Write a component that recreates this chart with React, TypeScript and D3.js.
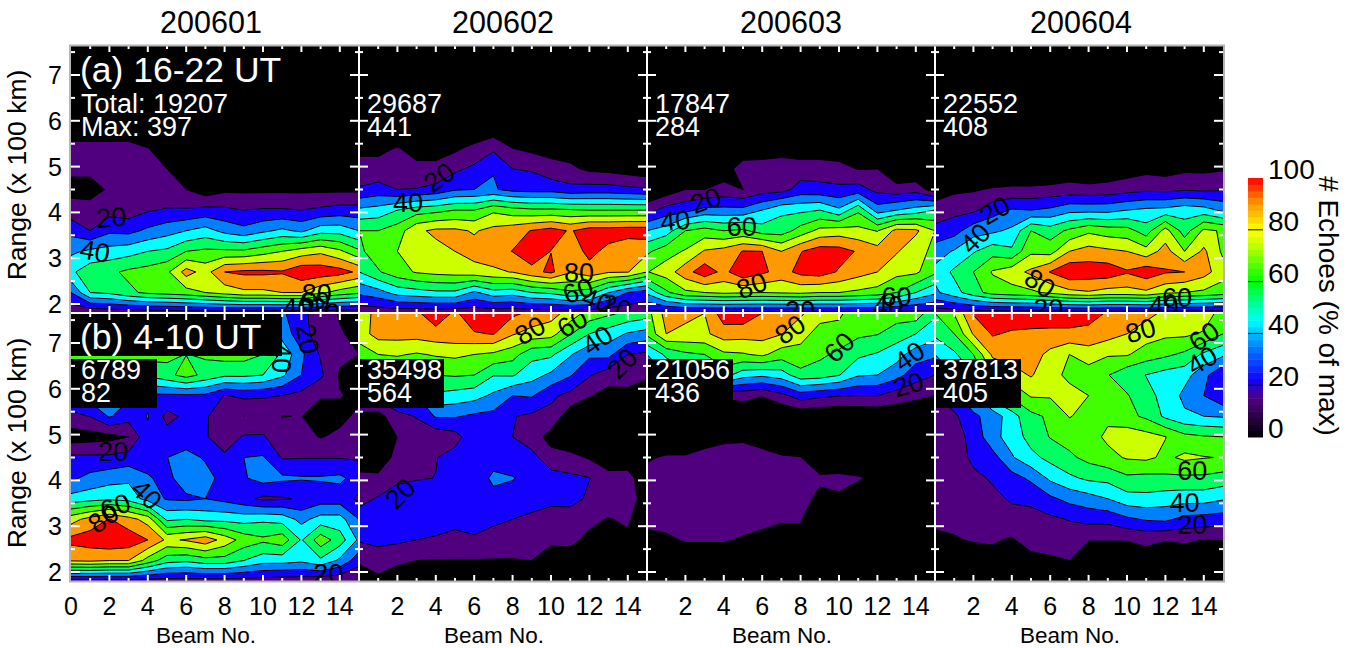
import React from "react";
import * as d3 from "d3";

const months = ["200601", "200602", "200603", "200604"];
const topTotals = ["Total: 19207", "29687", "17847", "22552"];
const topMaxes = ["Max: 397", "441", "284", "408"];
const bottomTotals = ["6789", "35498", "21056", "37813"];
const bottomMaxes = ["82", "564", "436", "405"];
const levels = [10, 20, 30, 40, 50, 60, 70, 80, 90];
const bandColors = ["#50007f", "#1400ff", "#0080ff", "#00ffff", "#00ff60", "#40ff00", "#ccff00", "#ff9900", "#ff0000"];
const beamTicks = d3.range(0, 16);
const beamLabels = [0, 2, 4, 6, 8, 10, 12, 14];
const rangeTicks = [2, 3, 4, 5, 6, 7];
const barTicks = [0, 20, 40, 60, 80, 100];
const zero = [0, 0, 0, 0, 0, 0, 0, 0, 0, 0, 0, 0, 0, 0, 0, 0];

// rows run from range 180 km upward, 45 km per gate; columns are beams 0-15
const a1 = [
  [12, 11, 12, 12, 13, 13, 14, 14, 14, 13, 13, 12, 12, 12, 12, 12],
  [30, 50, 52, 58, 62, 64, 66, 70, 74, 78, 78, 80, 80, 72, 66, 62],
  [48, 56, 58, 62, 64, 68, 84, 76, 90, 92, 92, 91, 97, 96, 94, 88],
  [38, 42, 44, 46, 50, 52, 60, 62, 62, 62, 66, 70, 75, 78, 72, 62],
  [27, 20, 28, 27, 32, 36, 40, 44, 37, 33, 38, 42, 38, 46, 46, 40],
  [14, 13, 16, 15, 19, 21, 21, 23, 22, 20, 21, 21, 20, 22, 24, 24],
  [7, 7, 11, 11, 14, 12, 10, 4, 8, 8, 8, 8, 8, 8, 8, 8],
  [12, 12, 16, 15, 16, 10, 3, 0, 0, 0, 0, 0, 0, 0, 0, 0],
  [15, 15, 15, 15, 10.3, 5, 0, 0, 0, 0, 0, 0, 0, 0, 0, 0],
  zero, zero, zero, zero, zero,
];
const a2 = [
  [13, 13, 13, 13, 13, 13, 13, 13, 13, 13, 13, 13, 13, 13, 13, 13],
  [32, 36, 44, 46, 48, 48, 38, 46, 44, 50, 52, 58, 55, 40, 30, 25],
  [50, 59, 66, 71, 73, 74, 76, 78, 80.5, 87, 92, 81, 86, 81, 80.5, 70],
  [58, 65, 70, 73, 77, 80, 84, 86, 90.3, 96, 89.8, 84, 93, 87, 80.3, 82],
  [60, 60, 65, 78, 82, 82, 79, 83, 86, 90.5, 94, 89, 95, 95, 96, 96],
  [42, 44, 50, 55, 57, 60, 60, 68, 64, 62, 62, 61, 60, 60, 60, 60],
  [21, 24, 20, 20.5, 23, 29, 30, 31, 27, 26, 26, 23, 24, 24, 22.5, 21],
  [14, 13, 13, 12, 12, 18, 22, 29.5, 20, 19, 14, 12, 8, 7, 5, 3],
  [7.5, 8, 10.5, 7, 7, 8, 13, 18, 10, 7.4, 6, 5, 0, 0, 0, 0],
  [0, 0, 0, 0, 0, 0, 0, 3, 0, 0, 0, 0, 0, 0, 0, 0],
  zero, zero, zero, zero,
];
const a3 = [
  [16, 16, 16, 16, 16, 16, 16, 16, 16, 16, 16, 16, 16, 16, 16, 16],
  [42, 58, 68, 70, 72, 71, 70, 71, 72, 70, 70, 68, 66, 60, 50, 42],
  [69.5, 75, 86, 96, 87, 98, 92, 86, 93, 95, 89, 84, 80, 73, 72, 62],
  [58, 66, 71, 81, 84, 90.5, 90, 80, 89.5, 95, 94, 89, 84, 81, 73, 68],
  [40, 45, 60, 64, 60, 62, 55, 55, 64, 73, 75, 73, 69.5, 83, 82, 70],
  [16, 24, 27, 33, 33, 33, 40, 48, 48, 50, 42, 58, 35, 40, 44, 50],
  [0, 4, 10, 10, 13, 9.9, 15, 16, 24, 23, 22, 24, 17, 14, 16, 4],
  [0, 0, 2, 4, 5, 15, 15, 15, 15, 15, 14, 9.5, 10, 0, 0, 0],
  [0, 0, 0, 0, 0, 3, 4, 6, 4, 4, 3, 0, 0, 0, 0, 0],
  zero, zero, zero, zero, zero,
];
const a4 = [
  [14, 14, 14, 14, 14, 14, 14, 14, 14, 14, 14, 14, 14, 14, 14, 14],
  [38, 46, 56, 64, 66, 68, 72, 77, 79, 76, 76, 78, 72, 70, 68, 65],
  [43, 52, 60, 71, 76, 82, 90.5, 98, 96, 96, 91, 96, 91, 90, 84, 74],
  [35, 41, 49, 56, 52, 68, 66, 80, 84, 82, 80, 74, 84, 70, 82, 68],
  [23, 26, 36, 38, 42, 60, 55, 62, 68, 65, 64, 55, 74, 55, 72, 69],
  [14, 17, 18, 26, 31, 30, 32, 37, 37, 37, 40, 42, 43, 46, 44, 38],
  [5, 8, 9, 11, 12, 12, 13, 14, 13, 14, 16, 18, 17, 19, 18, 19],
  [0, 0, 0, 0, 0, 0, 0, 3, 2, 3, 5, 7, 6, 8, 8, 9],
  zero, zero, zero, zero, zero, zero,
];
const b1 = [
  [15, 15, 15, 15, 15, 15, 15, 15, 15, 15, 15, 14, 14, 12, 12, 10],
  [81, 82, 80, 80, 66, 54, 52, 56, 56, 50, 44, 44, 42, 48, 38, 24],
  [93, 95, 98, 96, 90, 78, 81, 86, 76, 66, 62, 66, 49, 66, 55, 38],
  [76, 84, 90.5, 84, 76, 48, 50, 47, 47, 46, 48, 46, 37, 44, 44, 30],
  [44, 46, 48, 46, 36, 29, 28, 30, 27, 23, 18, 19, 21, 25, 25, 18],
  [28, 33, 36, 38, 31, 27, 36, 33, 27, 29, 34, 32, 31, 31, 32, 26],
  [22, 22, 22, 24, 26, 29.9, 33, 29, 22, 30, 31, 19, 19.5, 19.5, 19.5, 19],
  [5, 6, 7, 10, 28, 24, 25, 21, 14, 21, 21, 14, 13, 9.5, 12, 13],
  [17, 20.3, 31, 24, 30.5, 17, 22, 21, 15, 9.9, 13, 9.8, 10.2, 5, 7.5, 12],
  [30, 35, 40, 32, 28, 28, 28, 28, 19.5, 22, 21, 20, 17, 11, 10.5, 8],
  [50, 50, 50, 50, 52, 57, 64, 57, 52, 52, 50, 42, 30, 22, 9, 6],
  [64, 64, 64, 64, 64, 62, 59.8, 61, 64, 64, 60, 48, 32, 19, 12, 10],
  [66, 66, 66, 66, 66, 66, 66, 66, 66, 66, 60, 36, 24, 15, 11, 7],
  [66, 66, 66, 66, 66, 66, 66, 66, 66, 60, 45, 32, 22, 16, 9, 5],
];
const b2 = [
  [5, 7, 7, 5, 0, 0, 0, 0, 0, 0, 0, 0, 0, 0, 0, 0],
  [11, 16, 11, 10, 9.5, 9.5, 9.5, 9.5, 9.5, 10, 5, 6, 0, 0, 0, 0],
  [21, 22, 22, 20, 19, 18, 19, 16, 15, 13, 12, 12, 8, 5, 8, 0],
  [26, 26, 26, 24, 24, 22, 23, 22, 20, 18, 15, 14, 12, 9.5, 11.5, 2],
  [16, 21, 27, 28, 26, 22, 23, 27, 26, 24, 23, 24, 18, 16, 18, 2],
  [13, 12, 17, 19, 20.2, 23, 24, 32, 30.5, 27, 24, 22, 20.3, 14, 15, 0],
  [3, 4, 13, 15, 19.5, 24, 26, 26, 25, 23, 14, 13, 9, 3, 2, 0],
  [4, 5, 10.1, 16, 13, 16, 27, 27, 20, 15, 6, 2, 0, 0, 0, 0],
  [6, 6, 17, 20.5, 31, 31, 28, 27, 20.5, 18, 17, 4, 2, 0, 0, 0],
  [30, 24, 30, 30, 48, 46, 44, 38, 30, 31, 22, 17, 10.5, 7, 8, 3],
  [55, 58, 60, 60, 60, 61, 60, 50.5, 51, 44, 38, 31, 21, 14, 13, 12],
  [64, 70, 71, 69, 71, 72, 70, 68, 64, 53, 52, 41, 32, 33, 20, 18],
  [75, 84, 84, 84, 86, 87, 89, 90.5, 81, 76, 74, 61, 50, 45, 39, 36],
  [75, 83, 84, 88, 97, 88, 98, 100, 92, 88, 84, 76, 66, 62, 58, 55],
];
const b3 = [
  zero,
  [0, 0, 3, 3, 3, 2, 2, 0, 0, 0, 0, 0, 0, 0, 0, 0],
  [7, 8, 11, 11, 11, 9, 7, 6, 6, 0, 0, 0, 0, 0, 0, 0],
  [13, 14, 15, 16, 16, 14, 13, 11, 11, 0, 0, 0, 0, 0, 0, 0],
  [14, 15, 16, 17, 18, 18, 17, 15, 13, 8, 9, 5, 0, 0, 0, 0],
  [13, 14, 15, 16, 17, 17, 16, 15, 13, 11.5, 12, 11, 8, 0, 0, 0],
  [9, 11, 11, 13, 14, 14, 13, 11, 10.3, 3, 3, 1, 0, 0, 0, 0],
  [0, 3, 3, 6, 8, 8.5, 6, 3, 2, 0, 0, 0, 0, 0, 0, 0],
  [0, 0, 0, 0, 0, 3, 0, 0, 2, 1, 0, 1, 2, 3, 0, 0],
  [12, 12, 12, 12, 12, 13, 10.5, 17, 25, 22, 20.5, 20, 20, 15, 13, 10],
  [25, 40, 45, 48, 54, 44, 42, 45, 56, 55, 50.5, 41, 40, 34, 24, 20],
  [40, 52, 58, 60, 68, 69, 72, 65, 68, 62, 58, 52, 49, 44, 35, 32],
  [62, 80, 78, 78, 85, 84, 84, 80.5, 72, 68, 66, 62, 60.5, 55, 50, 44],
  [66, 84, 82, 80, 96, 97, 90, 88, 82, 72, 72, 63, 62, 65, 66, 52],
];
const b4 = [
  zero,
  [0, 0, 3, 7, 3, 7, 9, 10, 2, 1, 2, 6, 3, 4, 2, 1],
  [8, 9, 11, 11, 9, 14, 13, 15, 10.5, 10.5, 10.5, 12, 10.5, 11.5, 9.8, 10.3],
  [12, 13, 14, 15, 17, 17, 18, 20.5, 23, 23, 28, 31, 32, 27, 26, 25],
  [12, 14, 15, 18, 21, 22, 28, 33, 36, 40, 46, 47, 45, 44, 44, 41],
  [12, 14, 18, 21, 26, 32, 42, 48, 52, 53, 58, 57, 58, 58, 58, 56],
  [12, 15, 22, 26, 39, 47, 53, 58, 63, 67, 71, 72, 68, 72, 70.5, 69.5],
  [12, 16, 23, 37, 44, 54, 60.5, 64, 66, 72, 76, 74, 70.3, 63, 61, 60],
  [15, 18, 28, 34, 46, 57, 62, 70.5, 67, 68, 63, 58, 48, 42, 40, 39],
  [20, 27, 38, 55, 62, 71, 71, 73, 70, 65, 61, 52, 48, 37, 30, 22],
  [30, 40, 50, 70, 75, 81, 73, 68, 65, 60.5, 53, 49.8, 46, 44, 33, 21],
  [40, 48, 60, 82, 85, 85, 77, 70, 75, 71, 71, 65, 62, 58, 48, 42],
  [52, 60, 81, 91, 88.5, 88, 88, 88, 87, 84, 80, 75, 72, 72, 69, 60],
  [60, 70.5, 91, 97, 97, 96, 95, 95, 94, 89, 85, 83, 78, 75, 75, 66],
];
const topGrids = [a1, a2, a3, a4];
const bottomGrids = [b1, b2, b3, b4];

// contour labels: [text, beam, range, angle]
type Lab = [string, number, number, number];
const topLabels: Lab[][] = [
  [["20", 2.1, 3.9, -5], ["40", 1.25, 3.16, 10], ["80", 12.8, 2.24, 0], ["60", 12.7, 2.07, 0], ["40", 11.8, 1.93, 0], ["20", 13.2, 1.88, 20]],
  [["20", 4.17, 4.77, -35], ["40", 2.55, 4.23, 0], ["80", 11.46, 2.7, 0], ["60", 11.4, 2.3, -20], ["40", 12.4, 2.08, 20], ["20", 13.4, 1.95, 20]],
  [["20", 3.05, 4.27, -20], ["40", 1.46, 3.83, -5], ["60", 4.93, 3.69, 0], ["80", 5.45, 2.41, -20], ["20", 7.97, 1.87, 0], ["60", 13, 2.16, 0], ["40", 12.55, 1.98, 0]],
  [["20", 3.1, 4.05, -30], ["40", 2.08, 3.44, -45], ["80", 5.47, 2.46, 35], ["20", 5.9, 1.9, 0], ["60", 12.6, 2.15, 0], ["40", 11.9, 1.98, 0]],
];
const bottomLabels: Lab[][] = [
  [["40", 11, 6.67, 90], ["20", 12.35, 7.09, 80], ["20", 2.2, 4.64, 0], ["40", 3.95, 3.7, 45], ["60", 2.3, 3.44, -20], ["80", 1.67, 3.18, -35], ["20", 13.4, 1.98, 0]],
  [["80", 8.9, 7.28, -30], ["60", 11.1, 7.44, -30], ["40", 12.4, 7.07, -35], ["20", 13.7, 6.56, -45], ["20", 2.13, 3.72, -45]],
  [["80", 7.45, 7.3, -35], ["60", 10, 6.91, -45], ["40", 13.65, 6.72, -35], ["20", 13.6, 6.1, -15]],
  [["80", 10.7, 7.28, -15], ["60", 14, 7.15, -35], ["40", 13.9, 6.63, -30], ["60", 13.4, 4.23, 0], ["40", 13, 3.53, 0], ["20", 13.4, 3.05, 0]],
];

const FONT = "'Liberation Sans', Arial, sans-serif";
const panelLefts = [71, 359, 647, 935];
const PANEL_W = 288;
const titleCenters = [211, 503, 791, 1081];
const rows = [
  { top: 46, bottom: 312, base: 304 },
  { top: 314, bottom: 581, base: 572 },
];
const contourGen = d3.contours().size([16, 14]).smooth(true).thresholds(levels);
const barColor = d3
  .scaleLinear<string>()
  .domain([0, 15, 22, 35, 45, 55, 60, 65, 75, 80, 90, 100])
  .range(["#000000", "#50007f", "#1400ff", "#0080ff", "#00ffff", "#00ff60", "#00ff00", "#40ff00", "#ccff00", "#ffff00", "#ff9900", "#ff0000"]);
const barScale = d3.scaleLinear().domain([0, 100]).range([437, 178]);
const barCells = d3.range(0, 100, 2.5);

function Panel({ grid, col, row, labels }: { grid: number[][]; col: number; row: number; labels: Lab[] }) {
  const left = panelLefts[col];
  const { top, bottom, base } = rows[row];
  const x = d3.scaleLinear().domain([0, 15]).range([left, left + PANEL_W]);
  const y = d3.scaleLinear().domain([2, 7]).range([base, base - 229]);
  const path = d3.geoPath(
    d3.geoTransform({
      point(px: number, py: number) {
        (this as any).stream.point(x(px - 0.5), y(1.8 + 0.45 * (py - 0.5)));
      },
    })
  );
  const bands = contourGen(grid.flat());
  const id = `clip-${row}-${col}`;
  return (
    <g>
      <clipPath id={id}>
        <rect x={left} y={top} width={PANEL_W} height={bottom - top} />
      </clipPath>
      <g clipPath={`url(#${id})`}>
        <rect x={left} y={top} width={PANEL_W} height={bottom - top} fill="#000" />
        {bands.map((b, i) => (
          <path key={i} d={path(b as any) || ""} fill={bandColors[i]} stroke="#000" strokeWidth={1} strokeLinejoin="round" />
        ))}
        {labels.map(([t, bm, rg, ang], i) => (
          <text key={i} transform={`translate(${x(bm)},${y(rg)}) rotate(${ang})`} textAnchor="middle" dy="0.36em" fontSize={27} fontFamily={FONT} fill="#000">
            {t}
          </text>
        ))}
      </g>
    </g>
  );
}

function Ticks({ col, row }: { col: number; row: number }) {
  const left = panelLefts[col];
  const right = left + PANEL_W;
  const { top, bottom, base } = rows[row];
  const x = d3.scaleLinear().domain([0, 15]).range([left, right]);
  const y = d3.scaleLinear().domain([2, 7]).range([base, base - 229]);
  const halves = [2, 2.5, 3, 3.5, 4, 4.5, 5, 5.5, 6, 6.5, 7, 7.5];
  return (
    <g stroke="#fff" strokeWidth={2}>
      {beamTicks.slice(1, 15).map((b) => {
        const len = b % 2 === 0 ? 6 : 3;
        return (
          <g key={b}>
            <line x1={x(b)} x2={x(b)} y1={bottom} y2={bottom - len} />
            <line x1={x(b)} x2={x(b)} y1={top} y2={top + len} />
          </g>
        );
      })}
      {halves.map((r) => {
        const len = Number.isInteger(r) ? 9 : 4;
        return (
          <g key={r}>
            <line x1={left} x2={left + len} y1={y(r)} y2={y(r)} />
            <line x1={right} x2={right - len} y1={y(r)} y2={y(r)} />
          </g>
        );
      })}
    </g>
  );
}

export default function App() {
  return (
    <svg width={1354} height={648} style={{ position: "absolute", left: 0, top: 0, background: "#fff" }} fontFamily={FONT}>
      {months.map((m, i) => (
        <text key={m} x={titleCenters[i]} y={33} textAnchor="middle" fontSize={30.5} fill="#000">
          {m}
        </text>
      ))}
      {topGrids.map((g, i) => (
        <Panel key={i} grid={g} col={i} row={0} labels={topLabels[i]} />
      ))}
      {bottomGrids.map((g, i) => (
        <Panel key={i} grid={g} col={i} row={1} labels={bottomLabels[i]} />
      ))}
      {/* black boxes behind the panel text */}
      <rect x={71} y={314} width={211} height={42} fill="#000" />
      {[157, 444, 733, 1021].map((r, i) => (
        <rect key={i} x={panelLefts[i]} y={359} width={r - panelLefts[i]} height={i === 2 ? 45 : 49} fill="#000" />
      ))}
      {[0, 1, 2, 3].map((c) => [0, 1].map((r) => <Ticks key={`${c}${r}`} col={c} row={r} />))}
      {/* separators and outer frame */}
      {[359, 647, 935].map((p) => (
        <line key={p} x1={p} x2={p} y1={46} y2={581} stroke="#fff" strokeWidth={2} />
      ))}
      <line x1={71} x2={1223} y1={313} y2={313} stroke="#fff" strokeWidth={2} />
      <rect x={70} y={45.5} width={1154} height={536} fill="none" stroke="#b4b4b4" strokeWidth={2} />
      {/* panel text */}
      <text x={80} y={82} fontSize={35.5} fill="#fff">(a) 16-22 UT</text>
      <text x={80} y={349} fontSize={35.5} fill="#fff">(b) 4-10 UT</text>
      {topTotals.map((t, i) => (
        <text key={i} x={panelLefts[i] + (i === 0 ? 10 : 8)} y={113} fontSize={27} fill="#fff">{t}</text>
      ))}
      {topMaxes.map((t, i) => (
        <text key={i} x={panelLefts[i] + (i === 0 ? 10 : 8)} y={136} fontSize={27} fill="#fff">{t}</text>
      ))}
      {bottomTotals.map((t, i) => (
        <text key={i} x={panelLefts[i] + (i === 0 ? 10 : 8)} y={379} fontSize={27} fill="#fff">{t}</text>
      ))}
      {bottomMaxes.map((t, i) => (
        <text key={i} x={panelLefts[i] + (i === 0 ? 10 : 8)} y={402} fontSize={27} fill="#fff">{t}</text>
      ))}
      {/* axis labels */}
      {rows.map((r, ri) => (
        <g key={ri}>
          {rangeTicks.map((t) => (
            <text key={t} x={62} y={r.base - (t - 2) * 45.8 + 9} textAnchor="end" fontSize={25} fill="#000">{t}</text>
          ))}
          <text transform={`translate(26,${ri === 0 ? 175 : 443}) rotate(-90)`} textAnchor="middle" fontSize={26.5} fill="#000">
            Range (x 100 km)
          </text>
        </g>
      ))}
      {panelLefts.map((l, i) => (
        <g key={i}>
          {beamLabels.filter((b) => i === 0 || b > 0).map((b) => (
            <text key={b} x={l + (b * PANEL_W) / 15} y={615} textAnchor="middle" fontSize={25} fill="#000">{b}</text>
          ))}
          <text x={l + 135} y={643} textAnchor="middle" fontSize={22.5} fill="#000">Beam No.</text>
        </g>
      ))}
      {/* colour bar */}
      {barCells.map((v) => (
        <rect key={v} x={1248} width={15} y={barScale(v + 2.5)} height={barScale(v) - barScale(v + 2.5) + 0.5} fill={barColor(v + 1.25)} />
      ))}
      {barTicks.slice(1, 5).map((t) => (
        <line key={t} x1={1248} x2={1263} y1={barScale(t)} y2={barScale(t)} stroke="#000" strokeWidth={1} />
      ))}
      {barTicks.map((t) => (
        <text key={t} x={1268} y={barScale(t) + 1} fontSize={28} fill="#000">{t}</text>
      ))}
      <text transform="translate(1319,306) rotate(90)" textAnchor="middle" fontSize={28} fill="#000">
        # Echoes (% of max)
      </text>
    </svg>
  );
}
